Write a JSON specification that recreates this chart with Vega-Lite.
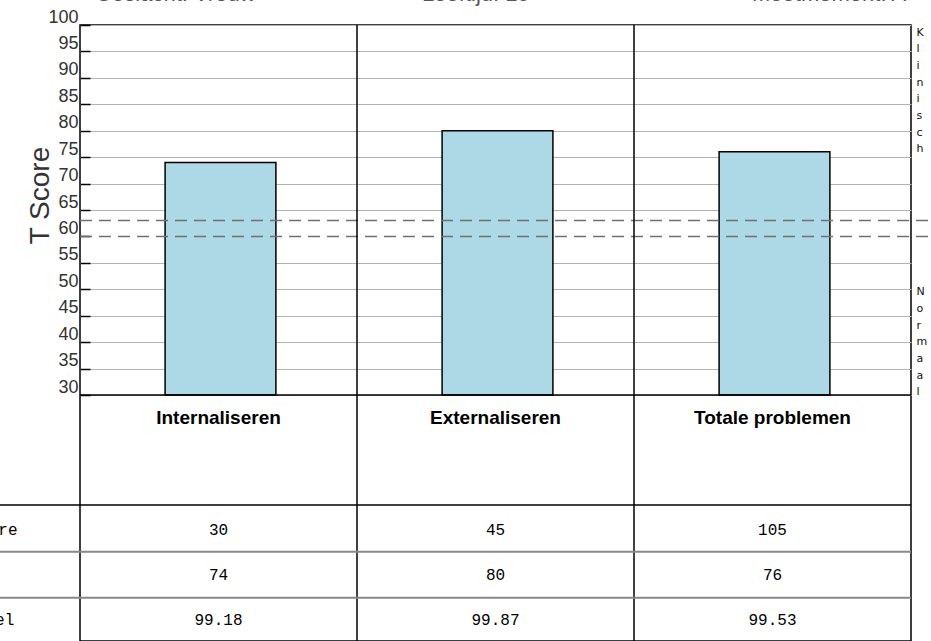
{
  "$schema": "https://vega.github.io/schema/vega-lite/v6.json",
  "width": 831,
  "height": 616,
  "autosize": {"type": "none"},
  "padding": {"left": 80, "top": 25, "right": 20, "bottom": 0},
  "config": {"view": {"stroke": "black", "strokeWidth": 1.5}},
  "datasets": {
    "scores": [
      {"schaal": "Internaliseren", "ruw": 30, "t": 74, "pct": 99.18},
      {"schaal": "Externaliseren", "ruw": 45, "t": 80, "pct": 99.87},
      {"schaal": "Totale problemen", "ruw": 105, "t": 76, "pct": 99.53}
    ]
  },
  "resolve": {"scale": {"x": "independent"}},
  "layer": [
    {
      "data": {"name": "scores"},
      "encoding": {
        "x": {"field": "schaal", "type": "nominal", "sort": null, "scale": {"paddingInner": 0.6, "paddingOuter": 0.3}, "axis": null}
      },
      "layer": [
        {
          "mark": {"type": "bar", "fill": "#add8e6", "stroke": "black", "strokeWidth": 1.5, "xOffset": 2},
          "encoding": {
            "y": {
              "field": "t", "type": "quantitative",
              "scale": {"domain": [-16.54, 100], "nice": false, "zero": false},
              "axis": {
                "values": [30, 35, 40, 45, 50, 55, 60, 65, 70, 75, 80, 85, 90, 95, 100],
                "grid": true, "gridColor": "#b4b4b4", "gridWidth": 1,
                "gridOpacity": {"condition": {"test": "datum.value === 60", "value": 0}, "value": 1},
                "domain": false,
                "ticks": true, "tickSize": -10, "tickColor": "black", "tickWidth": 1.5,
                "labelFont": "Liberation Sans", "labelFontSize": 18, "labelColor": "#333",
                "labelBaseline": "alphabetic", "labelOffset": -3, "labelPadding": 12,
                "title": "T Score", "titleFont": "Liberation Sans", "titleFontSize": 28,
                "titleFontWeight": "normal", "titleColor": "#333", "titleAngle": 270,
                "titleX": -40, "titleY": 170, "titleBaseline": "middle", "titleAlign": "center"
              }
            },
            "y2": {"datum": 30}
          }
        },
        {
          "mark": {"type": "text", "font": "Liberation Sans", "fontSize": 19, "fontWeight": "bold", "baseline": "middle", "color": "black"},
          "encoding": {"y": {"datum": 25.65}, "text": {"field": "schaal"}}
        },
        {
          "mark": {"type": "text", "font": "Liberation Mono", "fontSize": 16, "baseline": "middle", "color": "black"},
          "encoding": {"y": {"datum": 4.46}, "text": {"field": "ruw"}}
        },
        {
          "mark": {"type": "text", "font": "Liberation Mono", "fontSize": 16, "baseline": "middle", "color": "black"},
          "encoding": {"y": {"datum": -4.05}, "text": {"field": "t"}}
        },
        {
          "mark": {"type": "text", "font": "Liberation Mono", "fontSize": 16, "baseline": "middle", "color": "black"},
          "encoding": {"y": {"datum": -12.57}, "text": {"field": "pct", "format": ".2f"}}
        }
      ]
    },
    {
      "data": {"values": [{}]},
      "layer": [
        {
          "mark": {"type": "rule", "stroke": "#707070", "strokeWidth": 1.5, "strokeDash": [12, 7]},
          "encoding": {
            "x": {"datum": 0, "type": "quantitative", "scale": {"domain": [0, 3], "nice": false, "zero": false}, "axis": null},
            "x2": {"datum": 3.1},
            "y": {"datum": 63}
          }
        },
        {
          "mark": {"type": "rule", "stroke": "#707070", "strokeWidth": 1.5, "strokeDash": [12, 7]},
          "encoding": {"x": {"datum": 0}, "x2": {"datum": 3.1}, "y": {"datum": 60}}
        },
        {
          "mark": {"type": "rule", "stroke": "black", "strokeWidth": 1.5},
          "encoding": {"x": {"datum": 1}, "y": {"datum": 100}, "y2": {"datum": -17}}
        },
        {
          "mark": {"type": "rule", "stroke": "black", "strokeWidth": 1.5},
          "encoding": {"x": {"datum": 2}, "y": {"datum": 100}, "y2": {"datum": -17}}
        },
        {
          "mark": {"type": "rule", "stroke": "black", "strokeWidth": 1.5},
          "encoding": {"x": {"datum": 0}, "x2": {"datum": 3}, "y": {"datum": 30}}
        },
        {
          "mark": {"type": "rule", "stroke": "black", "strokeWidth": 1.5},
          "encoding": {"x": {"datum": -0.3}, "x2": {"datum": 3}, "y": {"datum": 9.19}}
        },
        {
          "mark": {"type": "rule", "stroke": "#888", "strokeWidth": 2},
          "encoding": {"x": {"datum": -0.3}, "x2": {"datum": 3}, "y": {"datum": 0.35}}
        },
        {
          "mark": {"type": "rule", "stroke": "#888", "strokeWidth": 2},
          "encoding": {"x": {"datum": -0.3}, "x2": {"datum": 3}, "y": {"datum": -8.35}}
        },
        {
          "mark": {"type": "text", "font": "Liberation Mono", "fontSize": 16, "align": "left", "baseline": "middle", "color": "black"},
          "encoding": {"x": {"datum": -0.607}, "y": {"datum": 4.46}, "text": {"value": "Totaalscore"}}
        },
        {
          "mark": {"type": "text", "font": "Liberation Mono", "fontSize": 16, "align": "left", "baseline": "middle", "color": "black"},
          "encoding": {"x": {"datum": -0.587}, "y": {"datum": -4.05}, "text": {"value": "T-score"}}
        },
        {
          "mark": {"type": "text", "font": "Liberation Mono", "fontSize": 16, "align": "left", "baseline": "middle", "color": "black"},
          "encoding": {"x": {"datum": -0.584}, "y": {"datum": -12.57}, "text": {"value": "Percentiel"}}
        },
        {
          "mark": {"type": "text", "font": "DejaVu Sans", "fontSize": 11, "align": "left", "baseline": "top", "lineHeight": 16.7, "color": "#111"},
          "encoding": {"x": {"datum": 3.02}, "y": {"datum": 99.7}, "text": {"value": ["K", "l", "i", "n", "i", "s", "c", "h"]}}
        },
        {
          "mark": {"type": "text", "font": "DejaVu Sans", "fontSize": 11, "align": "left", "baseline": "top", "lineHeight": 16.7, "color": "#111"},
          "encoding": {"x": {"datum": 3.02}, "y": {"datum": 50.6}, "text": {"value": ["N", "o", "r", "m", "a", "a", "l"]}}
        },
        {
          "mark": {"type": "text", "font": "Liberation Sans", "fontSize": 22, "align": "left", "baseline": "alphabetic", "color": "#555"},
          "encoding": {"x": {"datum": 0.054}, "y": {"datum": 104.5}, "text": {"value": "Geslacht: Vrouw"}}
        },
        {
          "mark": {"type": "text", "font": "Liberation Sans", "fontSize": 22, "align": "left", "baseline": "alphabetic", "color": "#555"},
          "encoding": {"x": {"datum": 1.235}, "y": {"datum": 104.5}, "text": {"value": "Leeftijd: 15"}}
        },
        {
          "mark": {"type": "text", "font": "Liberation Sans", "fontSize": 22, "align": "left", "baseline": "alphabetic", "color": "#555"},
          "encoding": {"x": {"datum": 2.426}, "y": {"datum": 104.5}, "text": {"value": "Meetmoment: A"}}
        }
      ]
    }
  ]
}
